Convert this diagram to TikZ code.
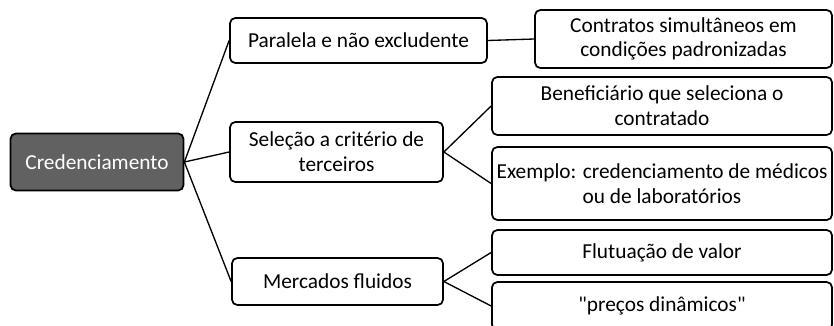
\documentclass[tikz,border=0pt]{standalone}
\usepackage{fontspec}
\setmainfont{Carlito}
\newfontfamily\straightfont{Carlito}
\usepackage{tikz}
\usepackage{xcolor}

\begin{document}
\begin{tikzpicture}[x=0.75pt,y=-0.75pt,every node/.style={font=\fontsize{16}{18.5}\selectfont},
  box/.style={draw=black,line width=1.3pt,rounded corners=4pt,align=center,inner sep=2pt},
  rootbox/.style={box,fill=black!62,text=white},
  link/.style={line width=1pt}]
\useasboundingbox (0,0) rectangle (834,325);
\node[rootbox,minimum width=173*0.75pt,minimum height=57*0.75pt] (cred) at (97,162) {Credenciamento};
\node[box,minimum width=257*0.75pt,minimum height=45*0.75pt] (paral) at (358.5,40.5) {Paralela e não excludente};
\node[box,minimum width=213*0.75pt,minimum height=60*0.75pt] (selec) at (336.5,152) {Seleção a critério de\\terceiros};
\node[box,minimum width=211*0.75pt,minimum height=47*0.75pt] (merc) at (337.5,281.5) {Mercados fluidos};
\node[box,minimum width=297*0.75pt,minimum height=58*0.75pt] (contr) at (683.5,39) {Contratos simultâneos em\\condições padronizadas};
\node[box,minimum width=340*0.75pt,minimum height=58*0.75pt] (benef) at (662,106) {Beneficiário que seleciona o\\contratado};
\node[box,minimum width=340*0.75pt,minimum height=73*0.75pt] (exemp) at (662,183.5) {Exemplo: credenciamento de médicos\\ou de laboratórios};
\node[box,minimum width=340*0.75pt,minimum height=45*0.75pt] (flut) at (662,252.5) {Flutuação de valor};
\node[box,minimum width=340*0.75pt,minimum height=48*0.75pt] (precos) at (662,306) {{\straightfont "}preços dinâmicos{\straightfont "}};
\draw[link] (cred.east) -- (paral.west);
\draw[link] (cred.east) -- (selec.west);
\draw[link] (cred.east) -- (merc.west);
\draw[link] (paral.east) -- (contr.west);
\draw[link] (selec.east) -- (benef.west);
\draw[link] (selec.east) -- (exemp.west);
\draw[link] (merc.east) -- (flut.west);
\draw[link] (merc.east) -- (precos.west);
\end{tikzpicture}
\end{document}
